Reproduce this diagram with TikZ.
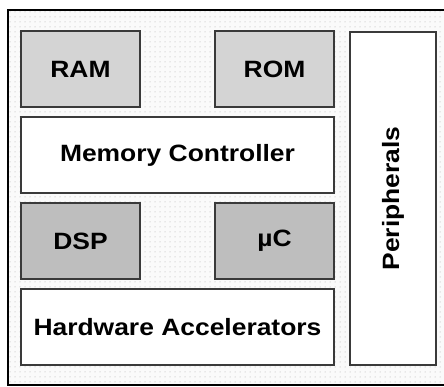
\documentclass[tikz,border=0pt]{standalone}
\usepackage{fontspec}
\setmainfont{Liberation Sans}
\usetikzlibrary{patterns.meta}
\definecolor{boxline}{HTML}{3A3A3A}
\definecolor{memfill}{HTML}{D4D4D4}
\definecolor{cpufill}{HTML}{BEBEBE}
\newcommand{\stretchtxt}[1]{\scalebox{1.12}[1]{#1}}
\tikzset{
  blk/.style={draw=boxline, line width=1.4pt, inner sep=0pt, font=\fontsize{23.6}{26}\selectfont\bfseries},
  memblk/.style={blk, fill=memfill, minimum width=119pt, minimum height=76pt},
  cpublk/.style={blk, fill=cpufill, minimum width=119pt, minimum height=76pt},
  wideblk/.style={blk, fill=white, minimum width=313pt, minimum height=76pt},
}
\begin{document}
\begin{tikzpicture}[x=1pt,y=-1pt]
\useasboundingbox (0,0) rectangle (444,387);
\fill[white] (0,0) rectangle (444,387);
\fill[gray!4] (8,10) rectangle (446,385);
\fill[pattern={Dots[distance=5pt, radius=0.5pt]}, pattern color=gray!65] (8,10) rectangle (446,385);
\draw[line width=1.2pt, black] (446,10) -- (8,10) -- (8,385) -- (446,385);
\node[memblk] (ram) at (80.5,69) {\stretchtxt{RAM}};
\node[memblk] (rom) at (274.5,69) {\stretchtxt{ROM}};
\node[wideblk] (mc) at (177.5,155) {\stretchtxt{Memory Controller}};
\node[cpublk] (dsp) at (80.5,241) {\stretchtxt{DSP}};
\node[cpublk] (uc) at (274.5,241) {\stretchtxt{µC}};
\node[wideblk] (hw) at (177.5,327) {\stretchtxt{Hardware Accelerators}};
\node[blk, fill=white, minimum width=86pt, minimum height=333pt] (per) at (393,198.5) {};
\node[font=\fontsize{23.6}{26}\selectfont\bfseries, rotate=90, inner sep=0pt] (pertext) at (per.center) {\stretchtxt{Peripherals}};
\end{tikzpicture}
\end{document}
